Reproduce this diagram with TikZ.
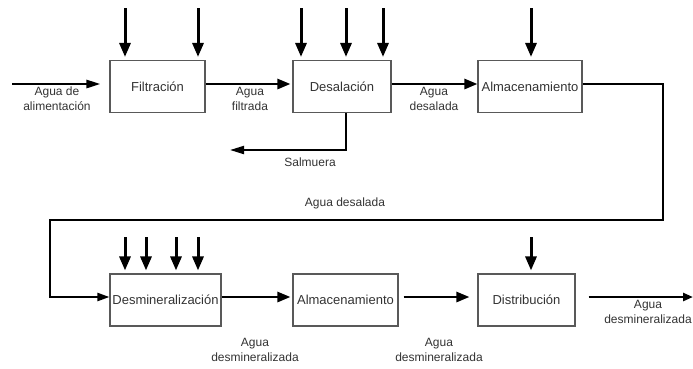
\documentclass[tikz,border=0pt]{standalone}
\usepackage{fontspec}
\setmainfont{Liberation Sans}
\usetikzlibrary{arrows.meta}
\begin{document}
\begin{tikzpicture}[x=1pt,y=-1pt,
 box/.style={draw=black!65, line width=1.1pt, minimum height=52pt, inner sep=0pt, font=\fontsize{13}{15}\selectfont, text=black!80},
 flow/.style={line width=2.6pt, -{Triangle[length=13pt,width=10pt]}},
 feed/.style={line width=3pt, -{Triangle[length=14pt,width=11pt]}, shorten >=3pt},
 loopline/.style={line width=2.2pt, -{Triangle[length=12pt,width=8pt]}},
 lbl/.style={font=\fontsize{12}{15}\selectfont, align=center, text=black!80, inner sep=0pt},
]
\useasboundingbox (0,0) rectangle (693,368);
% boxes
\node[box, minimum width=95pt] (filt) at (157.5,86.5) {Filtración};
\node[box, minimum width=98pt] (desal) at (342,86.5) {Desalación};
\node[box, minimum width=104pt] (alm1) at (530,86.5) {Almacenamiento};
\node[box, minimum width=111pt] (desmin) at (165.5,300) {Desmineralización};
\node[box, minimum width=105pt] (alm2) at (345.5,300) {Almacenamiento};
\node[box, minimum width=97pt] (distr) at (526.5,300) {Distribución};
% feed arrows top
\coordinate (a1) at (125,8);
\coordinate (a2) at (198,8);
\coordinate (a3) at (301,8);
\coordinate (a4) at (346,8);
\coordinate (a5) at (383,8);
\coordinate (a6) at (531,8);
\draw[feed] (a1) -- (a1 |- filt.north);
\draw[feed] (a2) -- (a2 |- filt.north);
\draw[feed] (a3) -- (a3 |- desal.north);
\draw[feed] (a4) -- (a4 |- desal.north);
\draw[feed] (a5) -- (a5 |- desal.north);
\draw[feed] (a6) -- (a6 |- alm1.north);
% feed arrows bottom
\coordinate (b1) at (125,237);
\coordinate (b2) at (146,237);
\coordinate (b3) at (176,237);
\coordinate (b4) at (198,237);
\coordinate (b5) at (531,237);
\draw[feed] (b1) -- (b1 |- desmin.north);
\draw[feed] (b2) -- (b2 |- desmin.north);
\draw[feed] (b3) -- (b3 |- desmin.north);
\draw[feed] (b4) -- (b4 |- desmin.north);
\draw[feed] (b5) -- (b5 |- distr.north);
% main flow
\coordinate (in) at (12,84);
\draw[line width=2.6pt, -{Triangle[length=14pt,width=8pt]}, shorten >=9pt] (in) -- (in -| filt.west);
\draw[flow, shorten >=2pt] ([yshift=2.5pt]filt.east) -- ([yshift=2.5pt]desal.west);
\draw[flow] ([yshift=2.5pt]desal.east) -- ([yshift=2.5pt]alm1.west);
\draw[flow, shorten >=2pt] ([yshift=3pt]desmin.east) -- ([yshift=3pt]alm2.west);
\draw[flow, shorten <=5pt, shorten >=8pt] ([yshift=3pt]alm2.east) -- ([yshift=3pt]distr.west);
\coordinate (out) at (693,297);
\draw[line width=2.6pt, -{Triangle[length=10pt,width=8pt]}, shorten <=13pt] (out -| distr.east) -- (out);
% loop
\coordinate (c1) at (663,220);
\coordinate (c2) at (50,220);
\draw[loopline] ([yshift=2.5pt]alm1.east) -| (c1) -- (c2) |- ([yshift=3pt]desmin.west);
% salmuera
\coordinate (s) at (230,150);
\draw[line width=2pt, -{Triangle[length=14pt,width=8pt]}] ([xshift=4pt]desal.south) |- (s);
% labels
\node[lbl] (l1) at (57,99) {Agua de\\alimentación};
\node[lbl] (l2) at (250,99) {Agua\\filtrada};
\node[lbl] (l3) at (434,99) {Agua\\desalada};
\node[lbl] (l4) at (310,162) {Salmuera};
\node[lbl] (l5) at (345,203) {Agua desalada};
\node[lbl] (l6) at (255,350) {Agua\\desmineralizada};
\node[lbl] (l7) at (439,350) {Agua\\desmineralizada};
\node[lbl] (l8) at (648,312) {Agua\\desmineralizada};
\end{tikzpicture}
\end{document}
